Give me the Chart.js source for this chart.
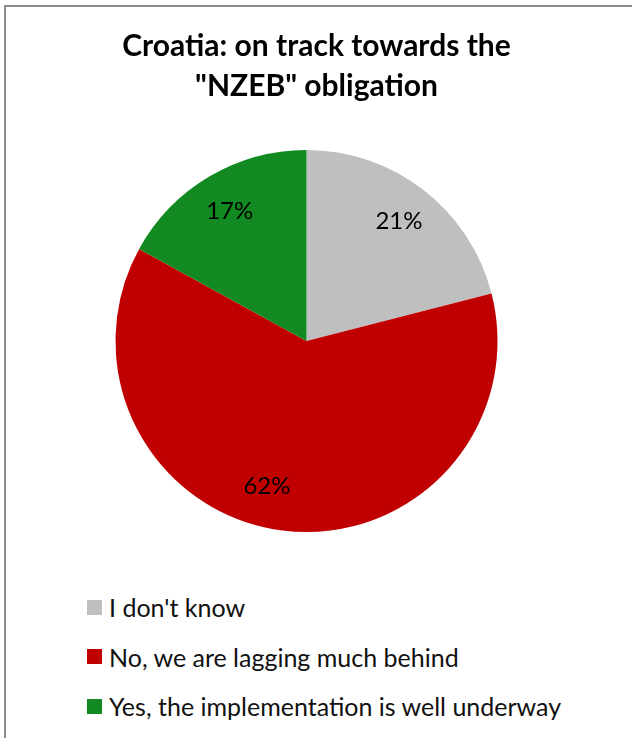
<!DOCTYPE html>
<html>
<head>
<meta charset="utf-8">
<script src="https://cdn.jsdelivr.net/npm/chart.js@4/dist/chart.umd.min.js"></script>
<style>
  html, body { margin: 0; padding: 0; background: #fff; overflow: hidden; }
  body { width: 632px; height: 738px; position: relative; font-family: Lato, "Open Sans", sans-serif; }
  .frame { position: absolute; left: 4px; top: 5px; width: 700px; height: 800px;
           border-left: 2px solid #8c8c8c; border-top: 2px solid #8c8c8c; }
  .chart-box { position: absolute; left: 0; top: 0; width: 632px; height: 560px; }
  .legend { position: absolute; left: 87px; top: 592px; margin: 0; padding: 0; list-style: none; }
  .legend li { display: flex; align-items: center; height: 30px; margin-bottom: 19.5px;
               font-size: 25px; color: #111; white-space: nowrap; }
  .legend span.box { display: inline-block; width: 15px; height: 15px; margin-right: 7px; }
</style>
</head>
<body>
<div class="frame"></div>
<div class="chart-box"><canvas id="pieChart"></canvas></div>
<ul class="legend" id="legend"></ul>

<script>
const titleLines = ["Croatia: on track towards the", "\"NZEB\" obligation"];
const answers = ["I don't know", "No, we are lagging much behind", "Yes, the implementation is well underway"];
const shares = [21, 62, 17];
const sliceColors = ["#BFBFBF", "#C00000", "#138A21"];

// percentage text inside each slice
const sliceLabels = {
  id: "sliceLabels",
  afterDatasetsDraw(chart, args, opts) {
    const ctx = chart.ctx;
    const arcs = chart.getDatasetMeta(0).data;
    ctx.save();
    ctx.font = opts.font;
    ctx.fillStyle = opts.color;
    ctx.textAlign = "center";
    ctx.textBaseline = "middle";
    arcs.forEach((arc, i) => {
      const p = arc.getProps(["x", "y", "startAngle", "endAngle", "outerRadius"], true);
      const mid = (p.startAngle + p.endAngle) / 2 + (opts.shift[i] || 0) * Math.PI / 180;
      const r = p.outerRadius * opts.offset;
      ctx.fillText(shares[i] + "%", p.x + Math.cos(mid) * r, p.y + Math.sin(mid) * r);
    });
    ctx.restore();
  }
};

const chart = new Chart(document.getElementById("pieChart"), {
  type: "pie",
  data: {
    labels: answers,
    datasets: [{
      data: shares,
      backgroundColor: sliceColors,
      borderWidth: 0,
    }],
  },
  options: {
    responsive: true,
    maintainAspectRatio: false,
    animation: false,
    layout: { padding: { left: 1, right: 0, bottom: 28 } },
    plugins: {
      // empty right-hand legend: keeps a small gutter so the pie sits a bit left of the title
      legend: {
        display: true,
        position: "right",
        labels: { padding: 10, filter: () => false },
      },
      tooltip: { enabled: false },
      title: {
        display: true,
        text: titleLines,
        color: "#000",
        font: { family: "Lato", size: 30, weight: "bold", lineHeight: 1.333 },
        padding: { top: 26, bottom: 44 },
      },
      sliceLabels: {
        font: "24px Lato",
        color: "#000",
        offset: 0.79,
        shift: [0, 8, 0],
      },
    },
  },
  plugins: [sliceLabels],
});

// legend list under the pie
const legendEl = document.getElementById("legend");
answers.forEach((txt, i) => {
  const li = document.createElement("li");
  const box = document.createElement("span");
  box.className = "box";
  box.style.background = sliceColors[i];
  li.appendChild(box);
  li.appendChild(document.createTextNode(txt));
  legendEl.appendChild(li);
});
</script>
</body>
</html>
